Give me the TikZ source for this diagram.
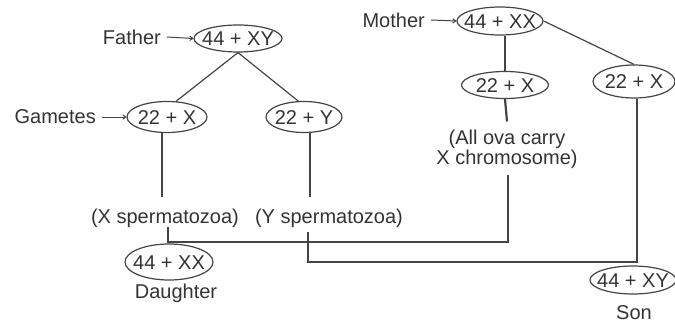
\documentclass[tikz,border=0pt]{standalone}
\usepackage{fontspec}
\setmainfont{Liberation Sans}
\usetikzlibrary{shapes.geometric,arrows.meta}
\definecolor{linec}{HTML}{444444}
\definecolor{txt}{HTML}{333333}
\newcommand\ctext[1]{\makebox[0pt]{\smash{\raisebox{-0.36em}{#1}}}}
\tikzset{
  oval/.style={ellipse, draw=linec, line width=1.2pt, inner sep=0pt, minimum height=28pt, text=txt},
  lbl/.style={inner sep=0pt, text=txt},
  conn/.style={draw=linec, line width=1.2pt},
  arr/.style={conn, line width=1pt, -{To[length=4pt,width=5pt]}},
}
\begin{document}
\begin{tikzpicture}[x=1pt, y=-1pt, font=\fontsize{20}{20}\selectfont]
\useasboundingbox (0,0) rectangle (675,324);
% nodes
\node[oval, minimum width=88pt, minimum height=27pt] (father) at (238,38.5) {\ctext{44 + XY}};
\node[lbl, anchor=east] (fatherl) at (161,37) {Father};
\node[oval, minimum width=80pt, minimum height=31pt] (g1) at (167,117) {\ctext{22 + X}};
\node[lbl, anchor=east] (gametes) at (96,117) {Gametes};
\node[oval, minimum width=76pt, minimum height=31pt] (g2) at (304,117) {\ctext{22 + Y}};
\node[lbl, anchor=base] (xs) at (165,223) {(X spermatozoa)};
\node[lbl, anchor=base] (ys) at (329,223) {(Y spermatozoa)};
\node[oval, minimum width=88pt, minimum height=36pt] (daughter) at (169,262) {\ctext{44 + XX}};
\node[lbl, anchor=base] (dlbl) at (176,298) {Daughter};
\node[oval, minimum width=86pt, minimum height=28pt] (mother) at (500,21) {\ctext{44 + XX}};
\node[lbl, anchor=east] (motherl) at (425,20) {Mother};
\node[oval, minimum width=87pt, minimum height=27pt] (ova1) at (505,85) {\ctext{22 + X}};
\node[oval, minimum width=82pt, minimum height=33pt] (ova2) at (634,81.5) {\ctext{22 + X}};
\node[lbl, align=center, anchor=north] (ova) at (507,129.5) {(All ova carry\\X chromosome)};
\node[oval, minimum width=86pt, minimum height=28pt] (son) at (633,280) {\ctext{44 + XY}};
\node[lbl, anchor=base] (slbl) at (634,319) {Son};
\coordinate (dj) at (168,242);
\coordinate (sj) at (637,262);
% arrows from labels
\draw[arr] ([xshift=6pt]fatherl.east) -- (father.west);
\draw[arr] ([xshift=6pt]gametes.east) -- (g1.west);
\draw[arr] ([xshift=6pt]motherl.east) -- (mother.west);
% connectors
\draw[conn] (father.south) -- (g1.60);
\draw[conn] (father.south) -- (g2.110);
\draw[conn] ([xshift=-5pt]g1.south) -- ([xshift=-5pt,yshift=11pt]g1.south |- xs.north);
\draw[conn] ([xshift=6pt]g2.south) -- ([xshift=6pt,yshift=11pt]g2.south |- ys.north);
\draw[conn] ([xshift=3pt]xs.south) -- ([xshift=3pt]xs.south |- daughter.north);
\draw[conn] ([xshift=1pt,yshift=-6pt]ova.south) |- (dj);
\draw[conn] ([xshift=-21pt,yshift=-5pt]ys.south) |- (sj) -- ([xshift=3pt]ova2.south);
\draw[conn] ([xshift=5pt]mother.south) -- (ova1.north);
\draw[conn] (mother.east) -- (ova2.north);
\draw[conn, line width=2.2pt] (ova1.south) -- ([yshift=8pt]ova.north);
\end{tikzpicture}
\end{document}
